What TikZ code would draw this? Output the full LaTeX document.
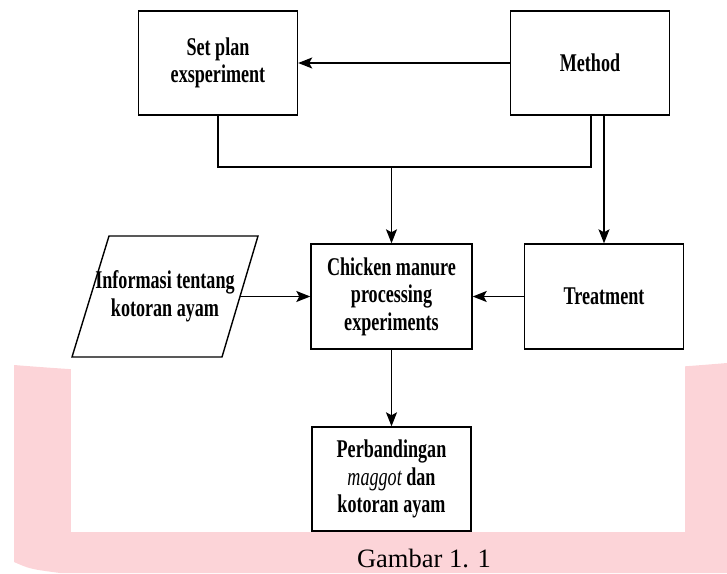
\documentclass[tikz,border=0pt]{standalone}
\usepackage{fontspec}
\setmainfont{Liberation Serif}
\newfontfamily\narrowserif{Liberation Serif}[FakeStretch = 0.71]
\usetikzlibrary{arrows.meta}
\definecolor{wmpink}{RGB}{252,212,216}
\tikzset{
	flow chart/.is family,
	flow chart/.cd,
	box text/.style = {
		align = center,
		inner sep = 0pt,
		font = \narrowserif\bfseries\fontsize{25.5}{27.5}\selectfont,
	},
	process/.style = {
		flow chart/box text,
		draw,
		line width = 1.4pt,
		minimum width = 159pt,
		minimum height = 104pt,
	},
	join/.style = {
		line width = 1.4pt,
	},
	link/.style = {
		line width = 1.4pt,
		-{Stealth[length = 14pt, width = 11pt, inset = 3pt]},
	},
	caption/.style = {
		anchor = base,
		inner sep = 0pt,
		font = \fontsize{26.5}{28}\selectfont,
	},
}

\begin{document}
\begin{tikzpicture}[x = 1pt, y = -1pt]
	\useasboundingbox (0, 0) rectangle (727, 573);

	% pink band behind the lower part
	\fill[wmpink] (14, 365) .. controls (250, 384) and (500, 382) .. (727, 363)
		-- (727, 573) -- (60, 573) .. controls (30, 569) .. (14, 562) -- cycle;
	\fill[white] (71, 360) rectangle (685, 532);

	\node[flow chart/process] (setplan) at (218, 63) {Set plan\\exsperiment};
	\node[flow chart/process] (method) at (590, 63) {Method};
	\node[flow chart/process, minimum width = 161pt, minimum height = 105pt] (chicken) at (391.5, 296.5) {Chicken manure\\processing\\experiments};
	\node[flow chart/process, minimum height = 105pt] (treatment) at (604, 296.5) {Treatment};
	\node[flow chart/process] (compare) at (391.5, 479) {Perbandingan\\{\mdseries\itshape maggot} dan\\kotoran ayam};

	\coordinate (info nw) at (109, 236);
	\coordinate (info ne) at (258, 236);
	\coordinate (info se) at (222, 357);
	\coordinate (info sw) at (72, 357);
	\coordinate (info east) at (240, 296.5);
	\draw[flow chart/join] (info nw) -- (info ne) -- (info se) -- (info sw) -- cycle;
	\node[flow chart/box text] (info) at (165, 296.5) {Informasi tentang\\kotoran ayam};

	\coordinate (merge) at (391.5, 167);

	\draw[flow chart/link] (method) -- (setplan);
	\draw[flow chart/join] (setplan.south) |- (merge) -| ([xshift = 1pt]method.south);
	\draw[flow chart/link] (merge) -- (chicken);
	\draw[flow chart/link] (treatment.north |- method.south) -- (treatment);
	\draw[flow chart/link] (info east) -- (chicken);
	\draw[flow chart/link] (treatment) -- (chicken);
	\draw[flow chart/link] (chicken) -- (compare);

	\node[flow chart/caption] (caption) at (424, 567) {Gambar 1. 1};
\end{tikzpicture}
\end{document}
